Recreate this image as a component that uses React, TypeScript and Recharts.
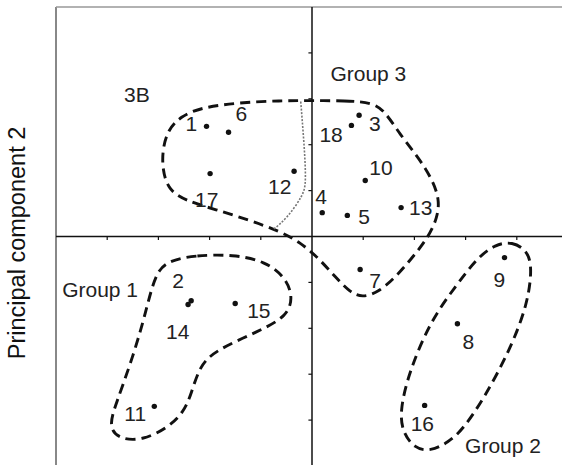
import React from 'react';
import { ScatterChart, Scatter, XAxis, YAxis, ReferenceLine } from 'recharts';

// Sample scores (principal component 1 / principal component 2)
const SAMPLES = ['1', '2', '3', '4', '5', '6', '7', '8', '9', '10', '11', '12', '13', '14', '15', '16', '17', '18'];
const PC1 = [-2.06, -2.36, 0.92, 0.2, 0.69, -1.63, 0.94, 2.84, 3.76, 1.04, -3.08, -0.35, 1.74, -2.42, -1.5, 2.2, -1.99, 0.77];
const PC2 = [2.4, -1.4, 2.64, 0.52, 0.46, 2.27, -0.72, -1.9, -0.46, 1.22, -3.7, 1.42, 0.63, -1.48, -1.46, -3.68, 1.37, 2.42];

// Group annotations
const GROUP_NAMES = ['Group 1', 'Group 2', 'Group 3', '3B'];
const GROUP_X = [-4.88, 2.99, 0.36, -3.67];
const GROUP_Y = [-1.31, -4.71, 3.38, 2.94];

// Group outlines (closed curves, in component units)
const GROUP3_X = [-0.03, 0.65, 1.18, 1.43, 1.72, 2.08, 2.35, 2.49, 2.45, 2.27, 1.96, 1.63, 1.29, 0.98, 0.75, 0.46, 0.12, -0.23, -0.62, -1.21, -1.89, -2.47, -2.81, -2.92, -2.92, -2.81, -2.57, -2.18, -1.4, -0.62];
const GROUP3_Y = [2.96, 2.96, 2.92, 2.72, 2.22, 1.72, 1.24, 0.81, 0.41, -0.02, -0.46, -0.89, -1.22, -1.33, -1.22, -0.89, -0.46, -0.13, 0.11, 0.35, 0.59, 0.78, 1.02, 1.46, 1.9, 2.33, 2.61, 2.81, 2.92, 2.96];

const GROUP1_X = [-2.77, -2.28, -1.54, -0.91, -0.52, -0.37, -0.48, -1.05, -1.89, -2.2, -2.36, -2.51, -2.81, -3.3, -3.75, -3.98, -3.82, -3.55, -3.31, -3.14, -3.0];
const GROUP1_Y = [-0.52, -0.41, -0.39, -0.54, -0.89, -1.31, -1.74, -2.07, -2.48, -2.83, -3.44, -3.83, -4.16, -4.44, -4.42, -4.16, -3.62, -2.79, -1.92, -1.15, -0.72];

const GROUP2_X = [3.58, 3.91, 4.21, 4.3, 4.21, 3.87, 3.38, 2.95, 2.66, 2.31, 2.0, 1.76, 1.72, 1.9, 2.31, 2.8, 3.23];
const GROUP2_Y = [-0.17, -0.11, -0.31, -0.68, -1.48, -2.46, -3.49, -4.2, -4.49, -4.68, -4.62, -4.25, -3.77, -2.94, -1.85, -1.09, -0.46];

// Dotted sub-division line of group 3 (3B)
const DIVIDER_X = [-0.22, -0.15, -0.13, -0.21, -0.48, -0.76];
const DIVIDER_Y = [2.94, 1.9, 1.24, 0.87, 0.44, 0.15];

const TICKS = [-4, -3, -2, -1, 1, 2, 3, 4];

// label placement (pixel offsets from each point, layout only)
const LABEL_OFFSETS: Record<string, [number, number]> = {
  '1': [-21, 5], '2': [-19, -13], '3': [10, 16], '4': [-7, -9], '5': [11, 9], '6': [7, -11],
  '7': [9, 18], '8': [5, 25], '9': [-11, 29], '10': [4, -6], '11': [-30, 15], '12': [-26, 23],
  '13': [8, 7], '14': [-22, 35], '15': [12, 14], '16': [-14, 26], '17': [-15, 33], '18': [-32, 17],
};

const FONT = '"Liberation Sans", Arial, sans-serif';
const TEXT_COLOR = '#222';

const points = SAMPLES.map((id, i) => ({ id, x: PC1[i], y: PC2[i] }));
const groupLabels = GROUP_NAMES.map((name, i) => ({ name, x: GROUP_X[i], y: GROUP_Y[i] }));
const zip = (xs: number[], ys: number[]) => xs.map((x, i) => ({ x, y: ys[i] }));
const group1 = zip(GROUP1_X, GROUP1_Y);
const group2 = zip(GROUP2_X, GROUP2_Y);
const group3 = zip(GROUP3_X, GROUP3_Y);
const divider = zip(DIVIDER_X, DIVIDER_Y);

const PointShape = (props: any) => {
  const { cx, cy, payload } = props;
  const off = LABEL_OFFSETS[payload.id] || [6, -6];
  return (
    <g>
      <circle cx={cx} cy={cy} r={2.7} fill="#111" />
      <text x={cx + off[0]} y={cy + off[1]} fontFamily={FONT} fontSize={21} fill={TEXT_COLOR}>
        {payload.id}
      </text>
    </g>
  );
};

const GroupLabelShape = (props: any) => {
  const { cx, cy, payload } = props;
  return (
    <text x={cx} y={cy} fontFamily={FONT} fontSize={21} fill={TEXT_COLOR}>
      {payload.name}
    </text>
  );
};

const Empty = () => <g />;

const AxisTitle = (props: any) => {
  const vb = props.viewBox || { x: 0, y: 7, width: 56, height: 459 };
  const x = vb.x + 24.5;
  const y = vb.y + vb.height / 2 + 6.5;
  return (
    <text
      x={x}
      y={y}
      transform={`rotate(-90 ${x} ${y})`}
      textAnchor="middle"
      fontFamily={FONT}
      fontSize={23.5}
      fill="#111"
    >
      Principal component 2
    </text>
  );
};

const dashed = { stroke: '#111', strokeWidth: 2.9, strokeDasharray: '10 6', fill: 'none' };

export default function App() {
  return (
    <div style={{ position: 'fixed', left: 0, top: 0, width: 562, height: 465, overflow: 'hidden', background: '#fff' }}>
      <ScatterChart width={600} height={480} margin={{ top: 7, right: 32, bottom: 14, left: 0 }}>
        <XAxis type="number" dataKey="x" domain={[-5, 5]} hide allowDataOverflow />
        <YAxis
          type="number"
          dataKey="y"
          domain={[-5, 5]}
          width={56}
          axisLine={false}
          tickLine={false}
          tick={false}
          allowDataOverflow
          label={{ content: AxisTitle } as any}
        />
        {/* frame */}
        <ReferenceLine x={-5} stroke="#888" strokeWidth={2} />
        <ReferenceLine y={5} stroke="#999" strokeWidth={1.5} />
        {/* central axes */}
        <ReferenceLine x={0} stroke="#111" strokeWidth={1.5} />
        <ReferenceLine y={0} stroke="#111" strokeWidth={1.5} />
        {TICKS.map((t) => (
          <ReferenceLine
            key={`xt${t}`}
            segment={[{ x: t, y: 0 }, { x: t, y: -0.075 }]}
            stroke="#111"
            strokeWidth={1.2}
          />
        ))}
        {TICKS.map((t) => (
          <ReferenceLine
            key={`yt${t}`}
            segment={[{ x: -0.07, y: t }, { x: 0, y: t }]}
            stroke="#111"
            strokeWidth={1.2}
          />
        ))}
        <Scatter
          data={group3}
          shape={Empty}
          line={dashed}
          lineJointType="basisClosed"
          isAnimationActive={false}
          legendType="none"
        />
        <Scatter
          data={group1}
          shape={Empty}
          line={dashed}
          lineJointType="basisClosed"
          isAnimationActive={false}
          legendType="none"
        />
        <Scatter
          data={group2}
          shape={Empty}
          line={dashed}
          lineJointType="basisClosed"
          isAnimationActive={false}
          legendType="none"
        />
        <Scatter
          data={divider}
          shape={Empty}
          line={{ stroke: '#777', strokeWidth: 1.6, strokeDasharray: '2 1.5', fill: 'none' }}
          lineJointType="natural"
          isAnimationActive={false}
          legendType="none"
        />
        <Scatter data={points} shape={PointShape} isAnimationActive={false} legendType="none" />
        <Scatter data={groupLabels} shape={GroupLabelShape} isAnimationActive={false} legendType="none" />
      </ScatterChart>
    </div>
  );
}
